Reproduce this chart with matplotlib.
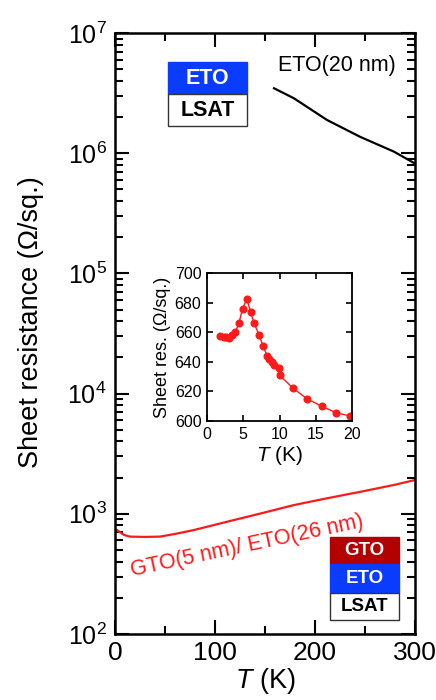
import numpy as np
import matplotlib
matplotlib.use("Agg")
import matplotlib.pyplot as plt
from matplotlib.patches import Rectangle
from matplotlib.ticker import LogLocator, MultipleLocator, FuncFormatter, NullFormatter

plt.rcParams['font.family'] = ['Liberation Sans', 'DejaVu Sans']
plt.rcParams['mathtext.fontset'] = 'custom'
plt.rcParams['mathtext.rm'] = 'Liberation Sans'
plt.rcParams['mathtext.it'] = 'Liberation Sans:italic'
plt.rcParams['mathtext.bf'] = 'Liberation Sans:bold'

# ---- data ----
eto_T = [159, 179, 212, 245, 279, 300]
eto_R = [3.47e6, 2.86e6, 1.89e6, 1.37e6, 1.03e6, 8.2e5]

gto_T = [0, 2, 9, 15, 30, 45, 60, 79, 112, 146, 179, 212, 246, 279, 300]
gto_R = [745, 733, 667, 646, 642, 646, 680, 733, 859, 1008, 1183, 1346, 1528, 1738, 1910]

ins_T = [1.84, 2.3, 2.67, 2.99, 3.45, 3.9, 4.4, 4.9, 5.5, 6.0, 6.5, 7.2, 7.7, 8.3, 8.5, 8.9, 9.2, 9.9, 10.0, 11.9, 13.8, 15.8, 17.8, 19.7]
ins_R = [657.2, 657, 656.8, 656, 658, 660, 666, 676, 682.5, 673.6, 666, 658, 651, 644, 641.6, 640, 638, 636, 631, 622, 615, 610, 605.6, 603.4]

RED = '#ff1a1a'

fig = plt.figure(figsize=(4.36, 7.0), dpi=100)
ax = fig.add_axes([115/436, 66/700, 300/436, 601/700])

ax.plot(eto_T, eto_R, color='black', lw=1.6)
ax.plot(gto_T, gto_R, color=RED, lw=1.6)
ax.set_yscale('log')
ax.set_xlim(0, 300)
ax.set_ylim(1e2, 1e7)

ax.xaxis.set_major_locator(MultipleLocator(100))
ax.xaxis.set_minor_locator(MultipleLocator(50))
ax.yaxis.set_major_locator(LogLocator(base=10, numticks=10))
ax.yaxis.set_minor_locator(LogLocator(base=10, subs=np.arange(2, 10), numticks=20))
ax.yaxis.set_minor_formatter(NullFormatter())
ax.yaxis.set_major_formatter(FuncFormatter(lambda v, p: r'$\mathrm{10^{%d}}$' % int(round(np.log10(v)))))
ax.tick_params(which='both', direction='in', top=True, right=True, width=1.5)
ax.tick_params(which='major', length=10, pad=6)
ax.tick_params(which='minor', length=6)
ax.tick_params(axis='x', which='major', labelsize=19, pad=5)
ax.tick_params(axis='y', which='major', labelsize=18)
for s in ax.spines.values():
    s.set_linewidth(1.8)

ax.set_xlabel(r'$T$ (K)', fontsize=19.5, labelpad=1)
fig.text(31/436, (700-322)/700, 'Sheet resistance (Ω/sq.)', fontsize=19.5,
         rotation=90, ha='center', va='center')

fig.text(337/436, (700-66)/700, 'ETO(20 nm)', fontsize=15.5, ha='center', va='center')
fig.text(247/436, (700-546)/700, 'GTO(5 nm)/ ETO(26 nm)', fontsize=15.5, color=RED,
         ha='center', va='center', rotation=12)

def box(x0, x1, y0, y1, fc, label, tc, fs):
    X0, X1 = x0/436, x1/436
    Y0, Y1 = (700-y1)/700, (700-y0)/700
    r = Rectangle((X0, Y0), X1-X0, Y1-Y0, transform=fig.transFigure, facecolor=fc,
                  edgecolor='#333333' if fc == 'white' else fc, lw=1.0, zorder=5)
    fig.add_artist(r)
    fig.text((X0+X1)/2, (Y0+Y1)/2, label, color=tc, fontsize=fs, fontweight='bold',
             ha='center', va='center', zorder=6)

box(168, 247, 62, 94, '#0a3cff', 'ETO', 'white', 15.5)
box(168, 247, 94, 126, 'white', 'LSAT', 'black', 15.5)
box(330, 399, 537, 564, '#b30000', 'GTO', 'white', 13.5)
box(330, 399, 564, 593, '#0a3cff', 'ETO', 'white', 13.5)
box(330, 399, 593, 620, 'white', 'LSAT', 'black', 13.5)

# inset
ins = fig.add_axes([207/436, (700-421)/700, 145/436, 148/700])
ins.plot(ins_T, ins_R, color=RED, lw=1.0, marker='o', ms=4.8)
ins.set_xlim(0, 20)
ins.set_ylim(600, 700)
ins.xaxis.set_major_locator(MultipleLocator(5))
ins.yaxis.set_major_locator(MultipleLocator(20))
ins.tick_params(which='both', direction='in', top=True, right=True, width=1.2, length=4,
                labelsize=11.5, pad=4)
for s in ins.spines.values():
    s.set_linewidth(1.3)
ins.set_xlabel(r'$T$ (K)', fontsize=15, labelpad=2)
ins.set_ylabel('Sheet res. (Ω/sq.)', fontsize=13, labelpad=3)

fig.savefig('out.png', dpi=100)
